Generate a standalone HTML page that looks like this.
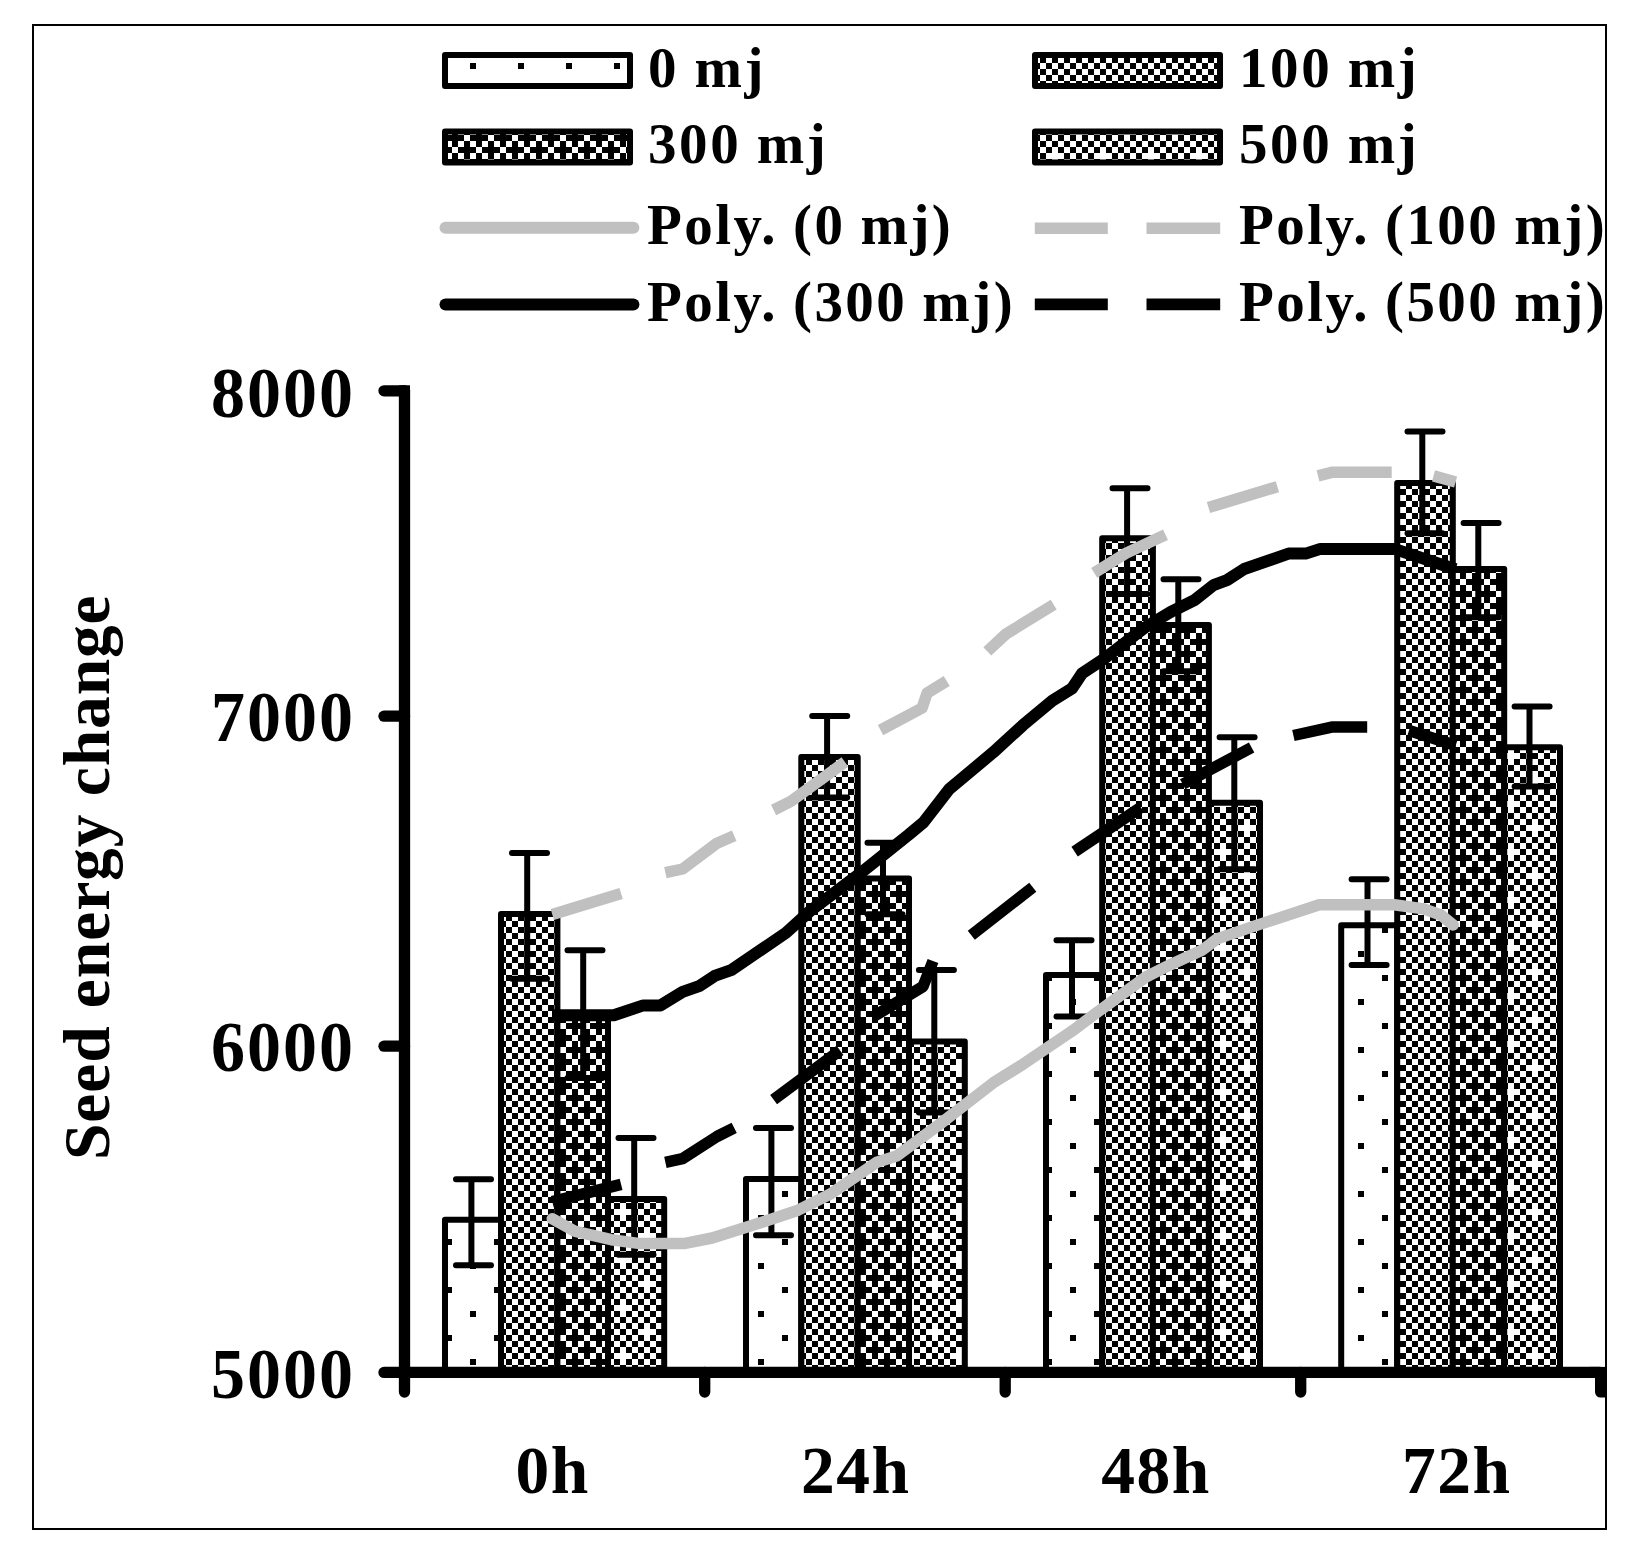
<!DOCTYPE html>
<html><head><meta charset="utf-8"><title>Seed energy change</title>
<style>html,body{margin:0;padding:0;background:#fff}svg{display:block}text{font-family:"Liberation Serif","DejaVu Serif",serif;font-weight:bold;fill:#000}.ax{font-size:68px;letter-spacing:2px}.xl{font-size:67.5px;letter-spacing:1.6px}.lg{font-size:57px;letter-spacing:2.6px;word-spacing:-1.5px}.ti{font-size:65.5px;letter-spacing:0.9px}</style></head><body>
<svg width="1627" height="1551" viewBox="0 0 1627 1551">
<defs>
<pattern id="p5" patternUnits="userSpaceOnUse" x="2" y="3" width="48" height="48"><rect width="48" height="48" fill="#fff"/><path fill="#000" shape-rendering="crispEdges" d="M36 12h6v6h-6zM12 36h6v6h-6z"/></pattern>
<pattern id="p50" patternUnits="userSpaceOnUse" x="2" y="3" width="48" height="48"><rect width="48" height="48" fill="#fff"/><path fill="#000" shape-rendering="crispEdges" d="M0 0h6v6h-6zM0 12h6v6h-6zM0 24h6v6h-6zM0 36h6v6h-6zM6 6h6v6h-6zM6 18h6v6h-6zM6 30h6v6h-6zM6 42h6v6h-6zM12 0h6v6h-6zM12 12h6v6h-6zM12 24h6v6h-6zM12 36h6v6h-6zM18 6h6v6h-6zM18 18h6v6h-6zM18 30h6v6h-6zM18 42h6v6h-6zM24 0h6v6h-6zM24 12h6v6h-6zM24 24h6v6h-6zM24 36h6v6h-6zM30 6h6v6h-6zM30 18h6v6h-6zM30 30h6v6h-6zM30 42h6v6h-6zM36 0h6v6h-6zM36 12h6v6h-6zM36 24h6v6h-6zM36 36h6v6h-6zM42 6h6v6h-6zM42 18h6v6h-6zM42 30h6v6h-6zM42 42h6v6h-6z"/></pattern>
<pattern id="p40" patternUnits="userSpaceOnUse" x="2" y="3" width="48" height="48"><rect width="48" height="48" fill="#fff"/><path fill="#000" shape-rendering="crispEdges" d="M0 0h6v6h-6zM0 12h6v6h-6zM0 24h6v6h-6zM0 36h6v6h-6zM6 6h6v6h-6zM6 18h6v6h-6zM6 30h6v6h-6zM6 42h6v6h-6zM12 0h6v6h-6zM12 12h6v6h-6zM12 24h6v6h-6zM12 36h6v6h-6zM18 6h6v6h-6zM18 18h6v6h-6zM18 42h6v6h-6zM24 0h6v6h-6zM24 12h6v6h-6zM24 24h6v6h-6zM24 36h6v6h-6zM30 6h6v6h-6zM30 18h6v6h-6zM30 30h6v6h-6zM30 42h6v6h-6zM36 0h6v6h-6zM36 12h6v6h-6zM36 24h6v6h-6zM36 36h6v6h-6zM42 18h6v6h-6zM42 30h6v6h-6zM42 42h6v6h-6z"/></pattern>
<pattern id="p75" patternUnits="userSpaceOnUse" x="2" y="3" width="48" height="48"><rect width="48" height="48" fill="#fff"/><path fill="#000" shape-rendering="crispEdges" d="M0 0h6v6h-6zM0 12h6v6h-6zM0 24h6v6h-6zM0 36h6v6h-6zM6 0h6v6h-6zM6 6h6v6h-6zM6 18h6v6h-6zM6 24h6v6h-6zM6 30h6v6h-6zM6 42h6v6h-6zM12 0h6v6h-6zM12 12h6v6h-6zM12 24h6v6h-6zM12 36h6v6h-6zM18 6h6v6h-6zM18 12h6v6h-6zM18 18h6v6h-6zM18 30h6v6h-6zM18 36h6v6h-6zM18 42h6v6h-6zM24 0h6v6h-6zM24 12h6v6h-6zM24 24h6v6h-6zM24 36h6v6h-6zM30 0h6v6h-6zM30 6h6v6h-6zM30 18h6v6h-6zM30 24h6v6h-6zM30 30h6v6h-6zM30 42h6v6h-6zM36 0h6v6h-6zM36 12h6v6h-6zM36 24h6v6h-6zM36 36h6v6h-6zM42 6h6v6h-6zM42 12h6v6h-6zM42 18h6v6h-6zM42 30h6v6h-6zM42 36h6v6h-6zM42 42h6v6h-6z"/></pattern>
</defs>
<rect width="1627" height="1551" fill="#fff"/>
<rect x="33" y="25" width="1573" height="1504" fill="none" stroke="#000" stroke-width="2" shape-rendering="crispEdges"/>
<rect x="445" y="55" width="185" height="31" fill="url(#p5)" stroke="#000" stroke-width="6" stroke-linejoin="round"/>
<rect x="445" y="131.5" width="185" height="31" fill="url(#p75)" stroke="#000" stroke-width="6" stroke-linejoin="round"/>
<rect x="1035" y="55" width="185" height="31" fill="url(#p50)" stroke="#000" stroke-width="6" stroke-linejoin="round"/>
<rect x="1035" y="131.5" width="185" height="31" fill="url(#p40)" stroke="#000" stroke-width="6" stroke-linejoin="round"/>
<line x1="445.5" y1="227.8" x2="633.4" y2="227.8" stroke="#c0c0c0" stroke-width="12" stroke-linecap="round"/>
<line x1="445.5" y1="304.4" x2="633.4" y2="304.4" stroke="#000" stroke-width="12" stroke-linecap="round"/>
<path d="M1034.8 228.2 h73 M1146.5 228.2 h73.7" stroke="#c0c0c0" stroke-width="11.6" fill="none"/>
<path d="M1034.8 304.4 h73 M1146.5 304.4 h73.7" stroke="#000" stroke-width="11.6" fill="none"/>
<text class="lg" x="648" y="87">0 mj</text>
<text class="lg" x="648" y="163.2">300 mj</text>
<text class="lg" style="letter-spacing:2.42px" x="647" y="243.7">Poly. (0 mj)</text>
<text class="lg" style="letter-spacing:2.42px" x="647" y="320.7">Poly. (300 mj)</text>
<text class="lg" x="1239" y="87">100 mj</text>
<text class="lg" x="1239" y="163.2">500 mj</text>
<text class="lg" style="letter-spacing:2.42px" x="1239" y="243.7">Poly. (100 mj)</text>
<text class="lg" style="letter-spacing:2.42px" x="1239" y="320.7">Poly. (500 mj)</text>
<rect x="445" y="1219.7" width="56" height="152.7" fill="url(#p5)" stroke="#000" stroke-width="6" stroke-linejoin="round"/>
<rect x="501" y="914" width="56.4" height="458.4" fill="url(#p50)" stroke="#000" stroke-width="6" stroke-linejoin="round"/>
<rect x="557.4" y="1013.4" width="50.6" height="359" fill="url(#p75)" stroke="#000" stroke-width="6" stroke-linejoin="round"/>
<rect x="608" y="1199" width="56.2" height="173.4" fill="url(#p40)" stroke="#000" stroke-width="6" stroke-linejoin="round"/>
<rect x="746" y="1179" width="55.3" height="193.4" fill="url(#p5)" stroke="#000" stroke-width="6" stroke-linejoin="round"/>
<rect x="801.3" y="757" width="56.4" height="615.4" fill="url(#p50)" stroke="#000" stroke-width="6" stroke-linejoin="round"/>
<rect x="857.7" y="878.5" width="51.3" height="493.9" fill="url(#p75)" stroke="#000" stroke-width="6" stroke-linejoin="round"/>
<rect x="909" y="1041.5" width="55.8" height="330.9" fill="url(#p40)" stroke="#000" stroke-width="6" stroke-linejoin="round"/>
<rect x="1046" y="975.1" width="56.2" height="397.3" fill="url(#p5)" stroke="#000" stroke-width="6" stroke-linejoin="round"/>
<rect x="1102.2" y="538.2" width="50.7" height="834.2" fill="url(#p50)" stroke="#000" stroke-width="6" stroke-linejoin="round"/>
<rect x="1152.9" y="625.1" width="56" height="747.3" fill="url(#p75)" stroke="#000" stroke-width="6" stroke-linejoin="round"/>
<rect x="1208.9" y="802.7" width="51.1" height="569.7" fill="url(#p40)" stroke="#000" stroke-width="6" stroke-linejoin="round"/>
<rect x="1341.2" y="925.3" width="56" height="447.1" fill="url(#p5)" stroke="#000" stroke-width="6" stroke-linejoin="round"/>
<rect x="1397.2" y="483" width="55.6" height="889.4" fill="url(#p50)" stroke="#000" stroke-width="6" stroke-linejoin="round"/>
<rect x="1452.8" y="569.1" width="51.4" height="803.3" fill="url(#p75)" stroke="#000" stroke-width="6" stroke-linejoin="round"/>
<rect x="1504.2" y="747.2" width="55.8" height="625.2" fill="url(#p40)" stroke="#000" stroke-width="6" stroke-linejoin="round"/>
<path d="M471.4 1179.2 V1265.3 M456 1179.2 h35 M456 1265.3 h35" stroke="#000" stroke-width="6" stroke-linecap="round" fill="none"/>
<path d="M527.2 853 V978.8 M512 853 h35 M512 978.8 h35" stroke="#000" stroke-width="6" stroke-linecap="round" fill="none"/>
<path d="M583.2 950.2 V1078 M567.5 950.2 h35 M567.5 1078 h35" stroke="#000" stroke-width="6" stroke-linecap="round" fill="none"/>
<path d="M634.2 1138.1 V1254.8 M618.5 1138.1 h35 M618.5 1254.8 h35" stroke="#000" stroke-width="6" stroke-linecap="round" fill="none"/>
<path d="M771.4 1128 V1235.3 M756 1128 h35 M756 1235.3 h35" stroke="#000" stroke-width="6" stroke-linecap="round" fill="none"/>
<path d="M827.1 715.9 V797.6 M812.2 715.9 h35 M812.2 797.6 h35" stroke="#000" stroke-width="6" stroke-linecap="round" fill="none"/>
<path d="M883 842.7 V914.3 M867.5 842.7 h35 M867.5 914.3 h35" stroke="#000" stroke-width="6" stroke-linecap="round" fill="none"/>
<path d="M934.3 970 V1112.5 M918.9 970 h35 M918.9 1112.5 h35" stroke="#000" stroke-width="6" stroke-linecap="round" fill="none"/>
<path d="M1072 940.2 V1016.4 M1056.5 940.2 h35 M1056.5 1016.4 h35" stroke="#000" stroke-width="6" stroke-linecap="round" fill="none"/>
<path d="M1127.1 488.3 V594 M1112.5 488.3 h35 M1112.5 594 h35" stroke="#000" stroke-width="6" stroke-linecap="round" fill="none"/>
<path d="M1178.3 579.2 V671.2 M1163.5 579.2 h35 M1163.5 671.2 h35" stroke="#000" stroke-width="6" stroke-linecap="round" fill="none"/>
<path d="M1234.3 737.3 V869.3 M1219.6 737.3 h35 M1219.6 869.3 h35" stroke="#000" stroke-width="6" stroke-linecap="round" fill="none"/>
<path d="M1367.5 879.3 V964.9 M1351.6 879.3 h35 M1351.6 964.9 h35" stroke="#000" stroke-width="6" stroke-linecap="round" fill="none"/>
<path d="M1422.3 431.5 V533.3 M1407.5 431.5 h35 M1407.5 533.3 h35" stroke="#000" stroke-width="6" stroke-linecap="round" fill="none"/>
<path d="M1478.3 523.1 V617.3 M1463.6 523.1 h35 M1463.6 617.3 h35" stroke="#000" stroke-width="6" stroke-linecap="round" fill="none"/>
<path d="M1529.5 706.4 V786.4 M1514.6 706.4 h35 M1514.6 786.4 h35" stroke="#000" stroke-width="6" stroke-linecap="round" fill="none"/>
<g stroke="#000" stroke-width="11.3" stroke-linecap="round" fill="none">
<path d="M404.5 390.8 V1392"/>
<path d="M384 1372.4 H1600"/>
<path d="M384 390.8 H404.5"/>
<path d="M384 716.2 H404.5"/>
<path d="M384 1046.2 H404.5"/>
<path d="M704.7 1372.4 V1392"/>
<path d="M1005.2 1372.4 V1392"/>
<path d="M1300.7 1372.4 V1392"/>
</g>
<path d="M1595 1372 H1605 V1397.5 H1600.5 A5.5 5.5 0 0 1 1595 1392 Z" fill="#000"/>
<rect x="1590" y="1366.9" width="15" height="11" fill="#000"/>
<rect x="399" y="385.3" width="11" height="11" fill="#000"/>
<polyline points="552.3,1218.8 574.4,1231.1 611.3,1239.7 638.3,1243.4 685.1,1243.4 712.1,1238.0 761.3,1222.5 798.1,1210.2 830.1,1194.2 876.8,1162.3 896.5,1156.1 939.3,1124.5 993.4,1082.7 1022.9,1064.3 1072.1,1031.1 1096.7,1012.7 1145.9,977.0 1170.4,964.7 1202.4,950.0 1217.1,938.9 1256.5,925.4 1319.2,904.7 1394.2,904.7 1423.7,908.9 1440.9,915.0 1453.2,924.9" fill="none" stroke="#c0c0c0" stroke-width="11.5" stroke-linecap="round" stroke-linejoin="round"/>
<polyline points="552.0,1015.3 613.8,1015.3 643.3,1005.4 660.5,1005.4 682.6,991.9 699.8,985.8 714.6,975.9 731.8,969.8 785.9,932.9 810.4,910.8 859.6,873.9 884.2,854.2 908.8,834.6 923.5,822.3 949.2,789.1 993.4,752.2 1022.9,725.2 1052.4,700.6 1072.1,688.3 1081.9,673.6 1104.1,658.8 1145.9,626.8 1170.4,612.1 1195.0,599.8 1213.5,585.1 1227.0,580.1 1244.2,569.0 1288.5,553.6 1305.7,553.6 1320.4,548.9 1394.2,548.9 1455.6,569.3" fill="none" stroke="#000" stroke-width="12" stroke-linejoin="round"/>
<polyline points="552.3,914.5 621.1,893.6" fill="none" stroke="#c0c0c0" stroke-width="11.5" stroke-linejoin="round"/>
<polyline points="665.4,872.7 682.6,869.0 717.0,843.2 734.2,835.8" fill="none" stroke="#c0c0c0" stroke-width="11.5" stroke-linejoin="round"/>
<polyline points="773.6,810.0 790.8,801.4 844.9,762.0" fill="none" stroke="#c0c0c0" stroke-width="11.5" stroke-linejoin="round"/>
<polyline points="880.5,730.1 922.1,708.0 927.0,693.2 946.7,681.0" fill="none" stroke="#c0c0c0" stroke-width="11.5" stroke-linejoin="round"/>
<polyline points="987.3,651.4 1005.7,634.2 1053.7,604.7" fill="none" stroke="#c0c0c0" stroke-width="11.5" stroke-linejoin="round"/>
<polyline points="1094.2,572.8 1126.2,553.1 1165.5,534.7" fill="none" stroke="#c0c0c0" stroke-width="11.5" stroke-linejoin="round"/>
<polyline points="1208.5,507.6 1277.4,486.7" fill="none" stroke="#c0c0c0" stroke-width="11.5" stroke-linejoin="round"/>
<polyline points="1318.0,475.9 1332.7,472.2 1391.7,472.2" fill="none" stroke="#c0c0c0" stroke-width="11.5" stroke-linejoin="round"/>
<polyline points="1433.5,475.9 1455.6,482.0" fill="none" stroke="#c0c0c0" stroke-width="11.5" stroke-linejoin="round"/>
<polyline points="552.3,1201.6 621.1,1184.4" fill="none" stroke="#000" stroke-width="11.5" stroke-linejoin="round"/>
<polyline points="665.4,1162.3 682.6,1158.6 717.0,1136.5 734.2,1127.8" fill="none" stroke="#000" stroke-width="11.5" stroke-linejoin="round"/>
<polyline points="773.6,1099.6 840.0,1050.4" fill="none" stroke="#000" stroke-width="11.5" stroke-linejoin="round"/>
<polyline points="875.0,1015.7 923.0,986.5 933.0,961.0" fill="none" stroke="#000" stroke-width="11.5" stroke-linejoin="round"/>
<polyline points="971.3,935.2 1032.8,887.3" fill="none" stroke="#000" stroke-width="11.5" stroke-linejoin="round"/>
<polyline points="1074.6,851.6 1140.9,807.4" fill="none" stroke="#000" stroke-width="11.5" stroke-linejoin="round"/>
<polyline points="1182.7,784.2 1251.6,747.5" fill="none" stroke="#000" stroke-width="11.5" stroke-linejoin="round"/>
<polyline points="1293.4,735.5 1332.8,726.9 1367.2,726.9" fill="none" stroke="#000" stroke-width="11.5" stroke-linejoin="round"/>
<polyline points="1409.0,730.6 1455.7,745.4" fill="none" stroke="#000" stroke-width="11.5" stroke-linejoin="round"/>
<text class="ax" transform="translate(211 417.4) scale(1 1.06)">8000</text>
<text class="ax" transform="translate(211 741.4) scale(1 1.06)">7000</text>
<text class="ax" transform="translate(211 1071.4) scale(1 1.06)">6000</text>
<text class="ax" transform="translate(211 1397.7) scale(1 1.06)">5000</text>
<text class="xl" text-anchor="middle" x="552.7" y="1492.9">0h</text>
<text class="xl" text-anchor="middle" x="855.8" y="1492.9">24h</text>
<text class="xl" text-anchor="middle" x="1156.1" y="1492.9">48h</text>
<text class="xl" text-anchor="middle" x="1456.8" y="1492.9">72h</text>
<text class="ti" transform="translate(109.2 1160) rotate(-90)">Seed energy change</text>
</svg></body></html>
